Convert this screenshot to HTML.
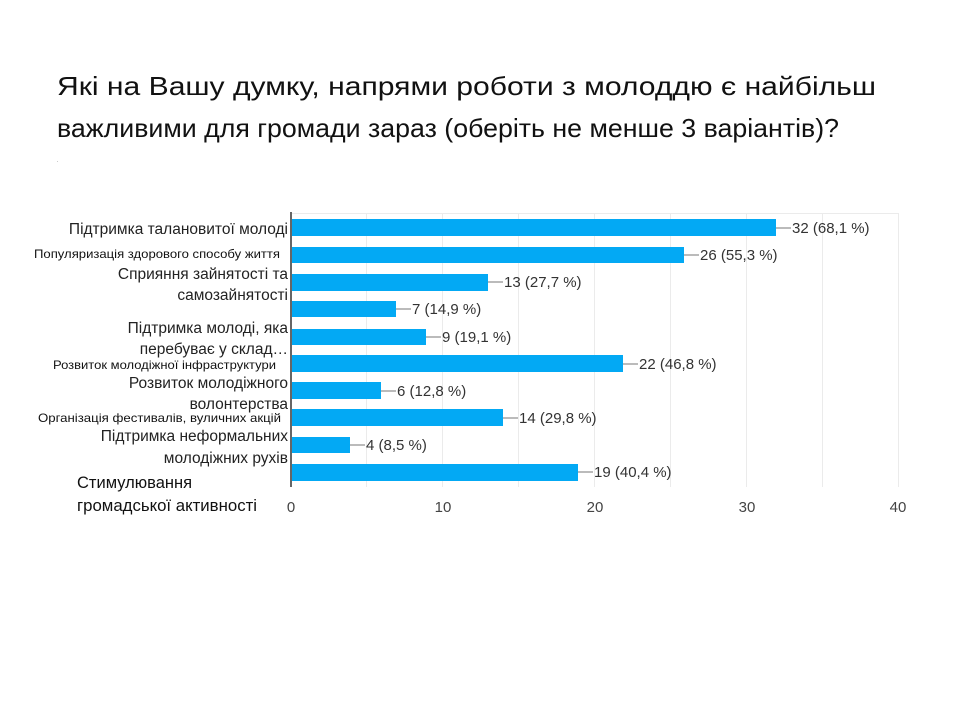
<!DOCTYPE html>
<html><head><meta charset="utf-8"><style>
body{margin:0;background:#fff;}
svg{display:block;font-family:"Liberation Sans",Arial,sans-serif;}
</style></head><body>
<svg width="960" height="720" viewBox="0 0 960 720" xmlns="http://www.w3.org/2000/svg">
<rect width="960" height="720" fill="#fff"/>
<text x="57" y="95" font-size="26" fill="#111" textLength="819" lengthAdjust="spacingAndGlyphs">Які на Вашу думку, напрями роботи з молоддю є найбільш</text>
<text x="57" y="137" font-size="26" fill="#111" textLength="782" lengthAdjust="spacingAndGlyphs">важливими для громади зараз (оберіть не менше 3 варіантів)?</text>
<rect x="57" y="161" width="1" height="1" fill="#ccc"/>
<g stroke="#ebebeb" stroke-width="1">
<line x1="366.5" y1="213" x2="366.5" y2="487"/>
<line x1="442.5" y1="213" x2="442.5" y2="487"/>
<line x1="518.5" y1="213" x2="518.5" y2="487"/>
<line x1="594.5" y1="213" x2="594.5" y2="487"/>
<line x1="670.5" y1="213" x2="670.5" y2="487"/>
<line x1="746.5" y1="213" x2="746.5" y2="487"/>
<line x1="822.5" y1="213" x2="822.5" y2="487"/>
<line x1="898.5" y1="213" x2="898.5" y2="487"/>
<line x1="290" y1="213.5" x2="898" y2="213.5"/>
</g>
<g fill="#03a9f4">
<rect x="292" y="219" width="484" height="17"/>
<rect x="292" y="247" width="392" height="16"/>
<rect x="292" y="274" width="196" height="17"/>
<rect x="292" y="301" width="104" height="16"/>
<rect x="292" y="329" width="134" height="16"/>
<rect x="292" y="355" width="331" height="17"/>
<rect x="292" y="382" width="89" height="17"/>
<rect x="292" y="409" width="211" height="17"/>
<rect x="292" y="437" width="58" height="16"/>
<rect x="292" y="464" width="286" height="17"/>
</g>
<line x1="291" y1="212" x2="291" y2="487" stroke="#666" stroke-width="2"/>
<g stroke="#777" stroke-width="1">
<line x1="776" y1="228" x2="791" y2="228"/>
<line x1="684" y1="255" x2="699" y2="255"/>
<line x1="488" y1="282" x2="503" y2="282"/>
<line x1="396" y1="309" x2="411" y2="309"/>
<line x1="426" y1="337" x2="441" y2="337"/>
<line x1="623" y1="364" x2="638" y2="364"/>
<line x1="381" y1="391" x2="396" y2="391"/>
<line x1="503" y1="418" x2="518" y2="418"/>
<line x1="350" y1="445" x2="365" y2="445"/>
<line x1="578" y1="472" x2="593" y2="472"/>
</g>
<g font-size="15" fill="#333">
<text x="792" y="233">32 (68,1 %)</text>
<text x="700" y="260">26 (55,3 %)</text>
<text x="504" y="287">13 (27,7 %)</text>
<text x="412" y="314">7 (14,9 %)</text>
<text x="442" y="342">9 (19,1 %)</text>
<text x="639" y="369">22 (46,8 %)</text>
<text x="397" y="396">6 (12,8 %)</text>
<text x="519" y="423">14 (29,8 %)</text>
<text x="366" y="450">4 (8,5 %)</text>
<text x="594" y="477">19 (40,4 %)</text>
</g>
<g font-size="15" fill="#444" text-anchor="middle">
<text x="291" y="512">0</text>
<text x="443" y="512">10</text>
<text x="595" y="512">20</text>
<text x="747" y="512">30</text>
<text x="898" y="512">40</text>
</g>
<g font-size="15.5" fill="#222" text-anchor="end">
<text x="288" y="234">Підтримка талановитої молоді</text>
<text x="288" y="279">Сприяння зайнятості та</text>
<text x="288" y="300">самозайнятості</text>
<text x="288" y="333">Підтримка молоді, яка</text>
<text x="288" y="354">перебуває у склад…</text>
<text x="288" y="388">Розвиток молодіжного</text>
<text x="288" y="409">волонтерства</text>
<text x="288" y="441">Підтримка неформальних</text>
<text x="288" y="463">молодіжних рухів</text>
</g>
<g font-size="12" fill="#111">
<text x="34" y="258" textLength="246" lengthAdjust="spacingAndGlyphs">Популяризація здорового способу життя</text>
<text x="53" y="369" textLength="223" lengthAdjust="spacingAndGlyphs">Розвиток молодіжної інфраструктури</text>
<text x="38" y="422" textLength="243" lengthAdjust="spacingAndGlyphs">Організація фестивалів, вуличних акцій</text>
</g>
<g font-size="16.5" fill="#111">
<text x="77" y="488">Стимулювання</text>
<text x="77" y="511" textLength="180" lengthAdjust="spacingAndGlyphs">громадської активності</text>
</g>
</svg>
</body></html>
